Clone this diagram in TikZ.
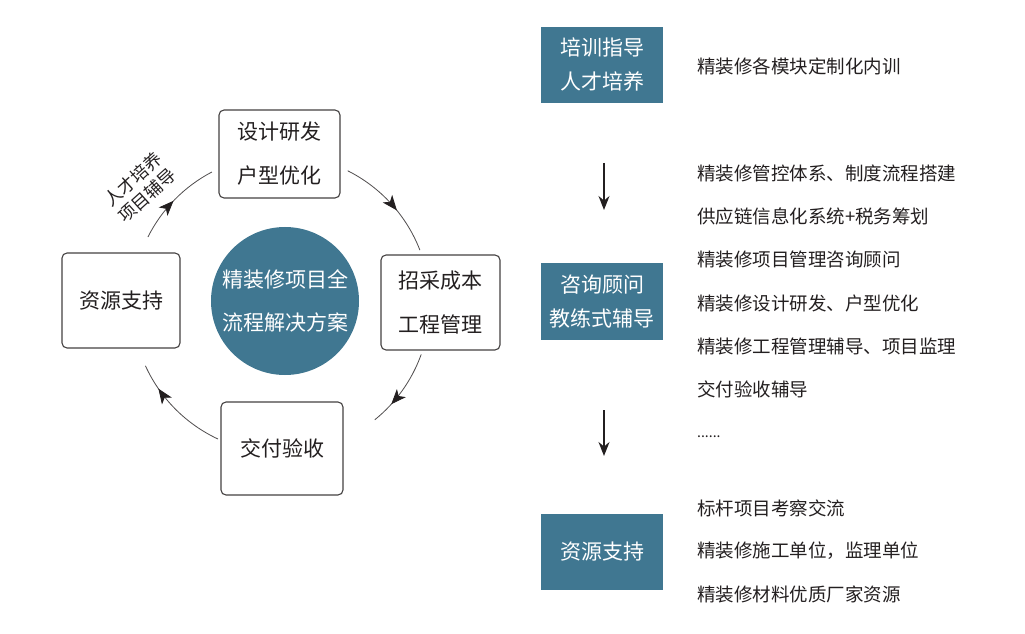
\documentclass[tikz,border=0pt]{standalone}
\usepackage{fontspec}
\setmainfont{Noto Sans CJK SC}
\usetikzlibrary{arrows.meta,decorations.markings}
\definecolor{tealbox}{RGB}{64,119,145}
\definecolor{ink}{RGB}{35,31,32}
\begin{document}
\begin{tikzpicture}[x=1pt,y=1pt,
  rbox/.style={draw=ink!85, line width=1.1pt, rounded corners=5pt, fill=white,
    text=ink, align=center, inner sep=0pt, font=\fontsize{21}{44}\selectfont},
  tbox/.style={fill=tealbox, minimum width=122pt, minimum height=76pt, text=white,
    align=center, inner sep=0pt, font=\fontsize{21}{34}\selectfont},
  item/.style={anchor=west, text=ink, inner sep=0pt, font=\fontsize{18.5}{20}\selectfont},
  cyc/.style={draw=ink!80, line width=0.8pt, postaction={decorate},
    decoration={markings, mark=at position #1 with {\arrow[ink]{Stealth[length=15pt,width=12pt,inset=4pt]}}}},
  darr/.style={draw=ink, line width=1.4pt, -{Stealth[length=14pt,width=11pt]}}
]
\useasboundingbox (0,0) rectangle (1025,633);

% left cycle
\coordinate (o) at (281,329);
\node[circle, fill=tealbox, minimum size=148pt, inner sep=0pt, text=white, align=center,
  font=\fontsize{21}{43}\selectfont] (hub) at (285,332) {精装修项目全\\流程解决方案};

\node[rbox, minimum width=121pt, minimum height=88pt] (design) at (279.5,479) {设计研发\\户型优化};
\node[rbox, minimum width=119pt, minimum height=95pt] (purchase) at (440.5,330.5) {招采成本\\工程管理};
\node[rbox, minimum width=118pt, minimum height=95pt] (resource) at (121,332.5) {资源支持};
\node[rbox, minimum width=122pt, minimum height=93pt] (deliver) at (282,184.5) {交付验收};

\draw[cyc=0.48] ([shift={(153.3:149pt)}]o) arc[start angle=153.3, end angle=117.6, radius=149pt];
\draw[cyc=0.58] ([shift={(63.4:149pt)}]o) arc[start angle=63.4, end angle=21.2, radius=149pt];
\draw[cyc=0.72] ([shift={(-19.8:149pt)}]o) arc[start angle=-19.8, end angle=-51, radius=149pt];
\draw[cyc=0.75] ([shift={(245:149pt)}]o) arc[start angle=245, end angle=204.5, radius=149pt];

\node[rotate=42, text=ink, align=center, inner sep=0pt,
  font=\fontsize{17.5}{21.5}\selectfont] (lbl) at (140,445.5) {人才培养\\项目辅导};

% right column
\node[tbox] (train) at (602,568) {培训指导\\人才培养};
\node[tbox, minimum height=77pt] (consult) at (602,331.5) {咨询顾问\\教练式辅导};
\node[tbox] (support) at (602,81) {资源支持};

\coordinate (a1s) at (604,470);
\coordinate (a1e) at (604,423);
\coordinate (a2s) at (604,223);
\coordinate (a2e) at (604,177);
\draw[darr] (a1s) -- (a1e);
\draw[darr] (a2s) -- (a2e);

\node[item] (t1) at (697,567) {精装修各模块定制化内训};
\node[item] (t2) at (697,460) {精装修管控体系、制度流程搭建};
\node[item] (t3) at (697,417) {供应链信息化系统+税务筹划};
\node[item] (t4) at (697,373) {精装修项目管理咨询顾问};
\node[item] (t5) at (697,330) {精装修设计研发、户型优化};
\node[item] (t6) at (697,287) {精装修工程管理辅导、项目监理};
\node[item] (t7) at (697,244) {交付验收辅导};
\node[item, font=\fontsize{14}{16}\selectfont, anchor=base west] (t8) at (697,196) {......};
\node[item] (t9) at (697,125) {标杆项目考察交流};
\node[item] (t10) at (697,82) {精装修施工单位，监理单位};
\node[item] (t11) at (697,39) {精装修材料优质厂家资源};
\end{tikzpicture}
\end{document}
